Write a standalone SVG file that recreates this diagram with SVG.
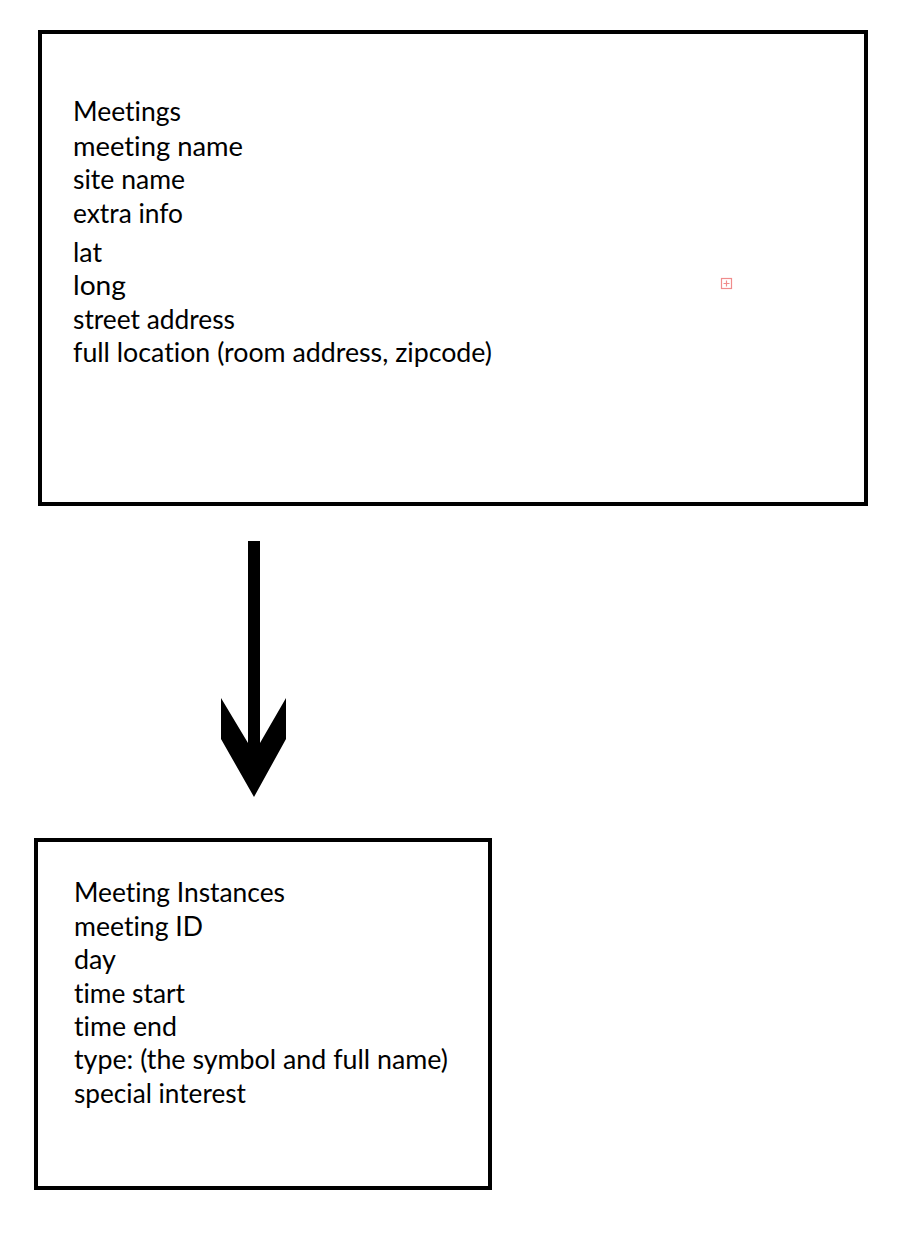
<svg xmlns="http://www.w3.org/2000/svg" width="914" height="1234" viewBox="0 0 914 1234">
<style>
.box{fill:#fff;stroke:#000;stroke-width:4}
.t{font-family:Lato,"Open Sans",sans-serif;font-size:27px;fill:#000;font-variant-ligatures:none}
</style>
<rect width="914" height="1234" fill="#fff"/>
<g id="meetings">
<rect class="box" x="40" y="32" width="826" height="472"/>
<text class="t" x="73" y="121" textLength="108" lengthAdjust="spacingAndGlyphs">Meetings</text>
<text class="t" x="73" y="156" textLength="170" lengthAdjust="spacingAndGlyphs">meeting name</text>
<text class="t" x="73" y="189" textLength="112" lengthAdjust="spacingAndGlyphs">site name</text>
<text class="t" x="73" y="223" textLength="110" lengthAdjust="spacingAndGlyphs">extra info</text>
<text class="t" x="73" y="262" textLength="29" lengthAdjust="spacingAndGlyphs">lat</text>
<text class="t" x="73" y="295" textLength="53" lengthAdjust="spacingAndGlyphs">long</text>
<text class="t" x="73" y="329" textLength="162" lengthAdjust="spacingAndGlyphs">street address</text>
<text class="t" x="73" y="362" textLength="419" lengthAdjust="spacingAndGlyphs">full location (room address, zipcode)</text>
<g fill="none" stroke="#f08c8c" stroke-width="1.2">
<rect x="721.5" y="278.5" width="10" height="10"/>
<path d="M726.5 280.5v6M723.5 283.5h6"/>
</g>
</g>
<g id="connectors">
<polygon points="248,541 260,541 260,743 286,698 286,739 254,797 221,739 221,698 248,743" fill="#000"/>
</g>
<g id="meeting-instances">
<rect class="box" x="36" y="840" width="454" height="348"/>
<text class="t" x="74" y="902" textLength="211" lengthAdjust="spacingAndGlyphs">Meeting Instances</text>
<text class="t" x="74" y="936" textLength="129" lengthAdjust="spacingAndGlyphs">meeting ID</text>
<text class="t" x="74" y="969" textLength="42" lengthAdjust="spacingAndGlyphs">day</text>
<text class="t" x="74" y="1003" textLength="111" lengthAdjust="spacingAndGlyphs">time start</text>
<text class="t" x="74" y="1036" textLength="103" lengthAdjust="spacingAndGlyphs">time end</text>
<text class="t" x="74" y="1069" textLength="374" lengthAdjust="spacingAndGlyphs">type: (the symbol and full name)</text>
<text class="t" x="74" y="1103" textLength="172" lengthAdjust="spacingAndGlyphs">special interest</text>
</g>
</svg>
